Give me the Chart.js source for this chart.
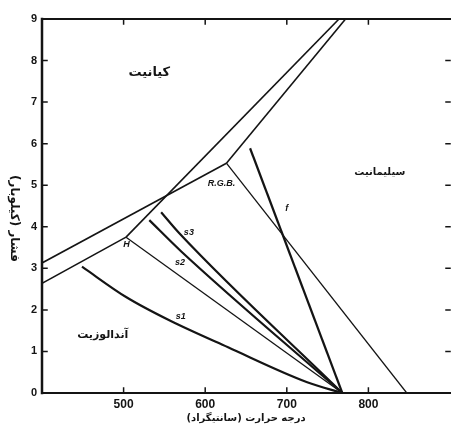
<!DOCTYPE html>
<html>
<head>
<meta charset="utf-8">
<script src="https://cdn.jsdelivr.net/npm/chart.js@4.4.0/dist/chart.umd.min.js"></script>
<style>
  html, body { margin: 0; padding: 0; background: #fff; }
  #wrap { width: 454px; height: 425px; position: relative; }
</style>
</head>
<body>
<div id="wrap"><canvas id="chart"></canvas></div>
<script>
// Axis ticks
const xTicks = [500, 600, 700, 800];
const yTicks = [0, 1, 2, 3, 4, 5, 6, 7, 8, 9];

// Holdaway (H) boundaries
const holdawayKyAnd = [{x: 400, y: 2.64}, {x: 503, y: 3.75}];
const holdawayKySil = [{x: 503, y: 3.75}, {x: 764, y: 9}];
const holdawayAndSil = [{x: 503, y: 3.75}, {x: 768, y: 0}];

// Richardson-Gilbert-Bell (R.G.B.) boundaries
const rgbKyAnd = [{x: 400, y: 3.13}, {x: 626, y: 5.53}];
const rgbKySil = [{x: 626, y: 5.53}, {x: 772, y: 9}];
const rgbAndSil = [{x: 626, y: 5.53}, {x: 847, y: 0}];

// s1, s3 pair and f curves
const s1Curve = [{x: 449, y: 3.04}, {x: 503, y: 2.31}, {x: 556, y: 1.75}, {x: 628, y: 1.1}, {x: 725, y: 0.26}, {x: 768, y: 0}];
const s3aCurve = [{x: 531.5, y: 4.16}, {x: 571, y: 3.4}, {x: 768, y: 0}];
const s3bCurve = [{x: 546, y: 4.35}, {x: 568, y: 3.85}, {x: 768, y: 0}];
const fCurve = [{x: 655, y: 5.89}, {x: 768, y: 0}];

// Text labels placed in data coordinates
const fieldLabels = [
    {x: 531.5, y: 7.7, text: 'کیانیت', size: 13},
    {x: 814, y: 5.32, text: 'سیلیمانیت', size: 10},
    {x: 474.5, y: 1.39, text: 'آندالوزیت', size: 11}
];
const curveLabels = [
    {x: 620, y: 5.05, text: 'R.G.B.'},
    {x: 503.6, y: 3.58, text: 'H'},
    {x: 580, y: 3.85, text: 's3'},
    {x: 569, y: 3.13, text: 's2'},
    {x: 570, y: 1.84, text: 's1'},
    {x: 700, y: 4.45, text: 'f'}
];

const ink = '#141414';

function lineSet(data, width, tension) {
    return {
        data: data,
        showLine: true,
        borderColor: ink,
        borderWidth: width,
        pointRadius: 0,
        tension: tension || 0,
        cubicInterpolationMode: tension ? 'monotone' : 'default'
    };
}

// frame, inward ticks, labels and axis titles
const decorPlugin = {
    id: 'decor',
    afterDatasetsDraw(chart) {
        const ctx = chart.ctx;
        const xs = chart.scales.x;
        const ys = chart.scales.y;
        const a = chart.chartArea;
        ctx.save();
        ctx.strokeStyle = ink;
        ctx.lineCap = 'square';

        // frame (left, bottom, top)
        ctx.lineWidth = 2.5;
        ctx.beginPath();
        ctx.moveTo(a.left, a.top);
        ctx.lineTo(a.left, a.bottom);
        ctx.stroke();
        ctx.lineWidth = 2;
        ctx.beginPath();
        ctx.moveTo(a.left, a.bottom);
        ctx.lineTo(a.right, a.bottom);
        ctx.moveTo(a.left, a.top);
        ctx.lineTo(a.right, a.top);
        ctx.stroke();

        // inward ticks
        ctx.lineWidth = 1.5;
        ctx.beginPath();
        xTicks.forEach(v => {
            const px = xs.getPixelForValue(v);
            ctx.moveTo(px, a.bottom);
            ctx.lineTo(px, a.bottom - 5);
            ctx.moveTo(px, a.top);
            ctx.lineTo(px, a.top + 5);
        });
        yTicks.forEach(v => {
            if (v === 0 || v === 9) return;
            const py = ys.getPixelForValue(v);
            ctx.moveTo(a.left, py);
            ctx.lineTo(a.left + 5, py);
            ctx.moveTo(a.right, py);
            ctx.lineTo(a.right - 4, py);
        });
        ctx.stroke();

        // region names
        ctx.fillStyle = ink;
        ctx.textAlign = 'center';
        ctx.textBaseline = 'middle';
        ctx.direction = 'rtl';
        fieldLabels.forEach(l => {
            ctx.font = 'bold ' + l.size + 'px "DejaVu Sans"';
            ctx.fillText(l.text, xs.getPixelForValue(l.x), ys.getPixelForValue(l.y));
        });

        // curve names
        ctx.direction = 'ltr';
        ctx.font = 'italic bold 9px "Liberation Sans"';
        curveLabels.forEach(l => {
            ctx.fillText(l.text, xs.getPixelForValue(l.x), ys.getPixelForValue(l.y));
        });

        // axis titles
        ctx.direction = 'rtl';
        ctx.font = 'bold 10px "DejaVu Sans"';
        ctx.fillText('درجه حرارت (سانتیگراد)', xs.getPixelForValue(650), 418);
        ctx.font = 'bold 12px "DejaVu Sans"';
        ctx.translate(14, ys.getPixelForValue(4.2));
        ctx.rotate(Math.PI / 2);
        ctx.fillText('فشار (کیلوبار)', 0, 0);
        ctx.restore();
    }
};

new Chart(document.getElementById('chart').getContext('2d'), {
    type: 'scatter',
    data: {
        datasets: [
            lineSet(holdawayKyAnd, 1.6),
            lineSet(holdawayKySil, 1.6),
            lineSet(holdawayAndSil, 1.3),
            lineSet(rgbKyAnd, 1.6),
            lineSet(rgbKySil, 1.6),
            lineSet(rgbAndSil, 1.3),
            lineSet(s1Curve, 2.2, 0.4),
            lineSet(s3aCurve, 2.2, 0.4),
            lineSet(s3bCurve, 2.2, 0.4),
            lineSet(fCurve, 2.2)
        ]
    },
    plugins: [decorPlugin],
    options: {
        responsive: true,
        maintainAspectRatio: false,
        animation: false,
        layout: { padding: { top: 19, right: 0, left: 0, bottom: 0 } },
        plugins: {
            legend: { display: false },
            tooltip: { enabled: false }
        },
        scales: {
            x: {
                type: 'linear',
                min: 400,
                max: 900,
                afterFit: scale => { scale.height = 32; },
                grid: { display: false, drawTicks: false },
                border: { display: false },
                ticks: {
                    stepSize: 100,
                    padding: 4,
                    color: ink,
                    font: { family: 'Liberation Sans', weight: 'bold', size: 12 },
                    callback: v => xTicks.includes(v) ? v : ''
                }
            },
            y: {
                type: 'linear',
                min: 0,
                max: 9,
                afterFit: scale => { scale.width = 42; },
                grid: { display: false, drawTicks: false },
                border: { display: false },
                ticks: {
                    stepSize: 1,
                    padding: 5,
                    color: ink,
                    font: { family: 'Liberation Sans', weight: 'bold', size: 11 }
                }
            }
        }
    }
});
</script>
</body>
</html>
